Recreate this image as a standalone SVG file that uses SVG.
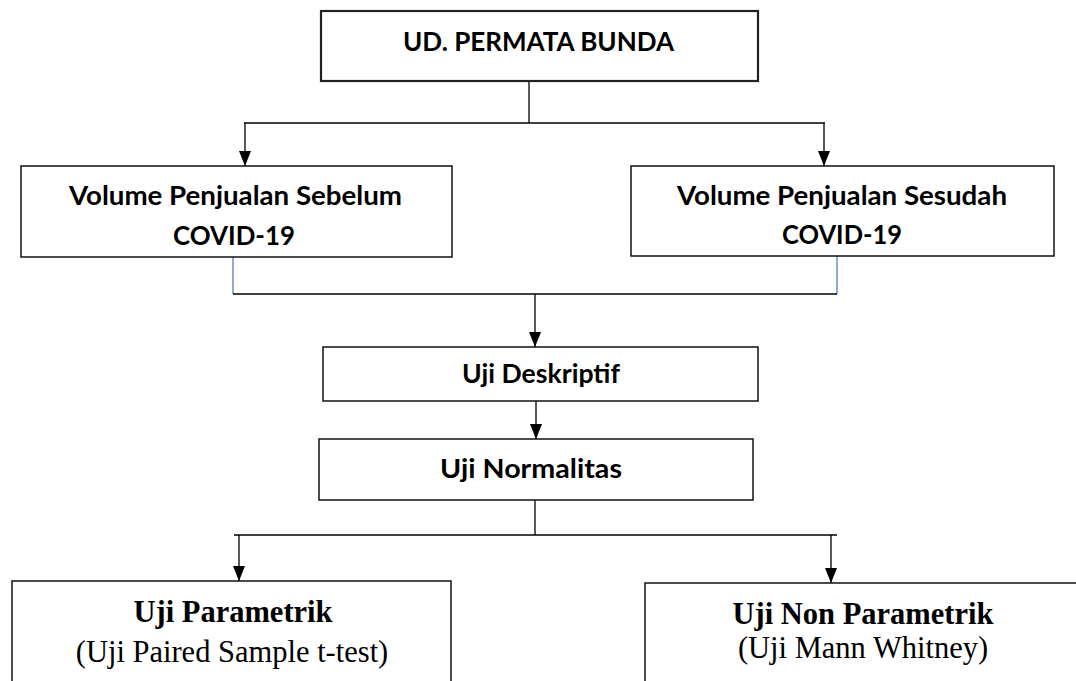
<svg xmlns="http://www.w3.org/2000/svg" width="1076" height="681" viewBox="0 0 1076 681">
  <defs>
    <marker id="arrd" viewBox="0 0 15 12" refX="15" refY="6" markerWidth="15" markerHeight="12" markerUnits="userSpaceOnUse" orient="auto">
      <path d="M0,0 L15,6 L0,12 z" fill="#000"/>
    </marker>
  </defs>
  <style>
    .box { fill: #fff; stroke: #111; stroke-width: 1.5; }
    .boxt { fill: #fff; stroke: #222; stroke-width: 2.2; }
    .ln { fill: none; stroke: #000; stroke-width: 1.3; }
    .blue { fill: none; stroke: #4472C4; stroke-width: 1.2; }
    .cal { font-family: Lato, "Open Sans", "Liberation Sans", sans-serif; font-weight: 700; font-size: 27px; fill: #000; text-anchor: middle; }
    .tb { font-family: "Liberation Serif", "Times New Roman", serif; font-weight: 700; font-size: 30.5px; fill: #000; text-anchor: middle; }
    .tr { font-family: "Liberation Serif", "Times New Roman", serif; font-weight: 400; font-size: 30.5px; fill: #000; text-anchor: middle; }
  </style>
  <rect width="1076" height="681" fill="#fff"/>

  <g id="connectors">
    <path class="ln" d="M529,81 V123"/>
    <path class="ln" d="M244,123 H825"/>
    <path class="ln" d="M245,123 V166" marker-end="url(#arrd)"/>
    <path class="ln" d="M824,123 V166" marker-end="url(#arrd)"/>
    <path class="blue" d="M233,257 V294"/>
    <path class="blue" d="M837,256 V294"/>
    <path class="ln" d="M233,294 H837"/>
    <path class="ln" d="M535,294 V347" marker-end="url(#arrd)"/>
    <path class="ln" d="M536,401 V439" marker-end="url(#arrd)"/>
    <path class="ln" d="M535,500 V535"/>
    <path class="ln" d="M234,535 H837"/>
    <path class="ln" d="M239,535 V581" marker-end="url(#arrd)"/>
    <path class="ln" d="M831,535 V583" marker-end="url(#arrd)"/>
  </g>

  <g id="node-ud">
    <rect class="boxt" x="321" y="11" width="437" height="70"/>
    <text class="cal" x="538.5" y="51" textLength="271" lengthAdjust="spacingAndGlyphs">UD. PERMATA BUNDA</text>
  </g>

  <g id="node-sebelum">
    <rect class="box" x="21" y="166" width="431" height="91"/>
    <text class="cal" x="235.5" y="205" textLength="333" lengthAdjust="spacingAndGlyphs">Volume Penjualan Sebelum</text>
    <text class="cal" x="234" y="245" textLength="122" lengthAdjust="spacingAndGlyphs">COVID-19</text>
  </g>

  <g id="node-sesudah">
    <rect class="box" x="631" y="166" width="423" height="90"/>
    <text class="cal" x="842" y="205" textLength="330" lengthAdjust="spacingAndGlyphs">Volume Penjualan Sesudah</text>
    <text class="cal" x="842" y="244" textLength="120" lengthAdjust="spacingAndGlyphs">COVID-19</text>
  </g>

  <g id="node-deskriptif">
    <rect class="box" x="323" y="347" width="435" height="54"/>
    <text class="cal" x="541" y="383" textLength="158" lengthAdjust="spacingAndGlyphs">Uji Deskriptif</text>
  </g>

  <g id="node-normalitas">
    <rect class="box" x="319" y="439" width="434" height="61"/>
    <text class="cal" x="531" y="478" textLength="182" lengthAdjust="spacingAndGlyphs">Uji Normalitas</text>
  </g>

  <g id="node-parametrik">
    <rect class="box" x="12" y="581" width="439" height="130"/>
    <text class="tb" x="233" y="622">Uji Parametrik</text>
    <text class="tr" x="232" y="662">(Uji Paired Sample t-test)</text>
  </g>

  <g id="node-nonparametrik">
    <rect class="box" x="645" y="583" width="445" height="130"/>
    <text class="tb" x="863" y="624">Uji Non Parametrik</text>
    <text class="tr" x="863" y="658">(Uji Mann Whitney)</text>
  </g>
</svg>
